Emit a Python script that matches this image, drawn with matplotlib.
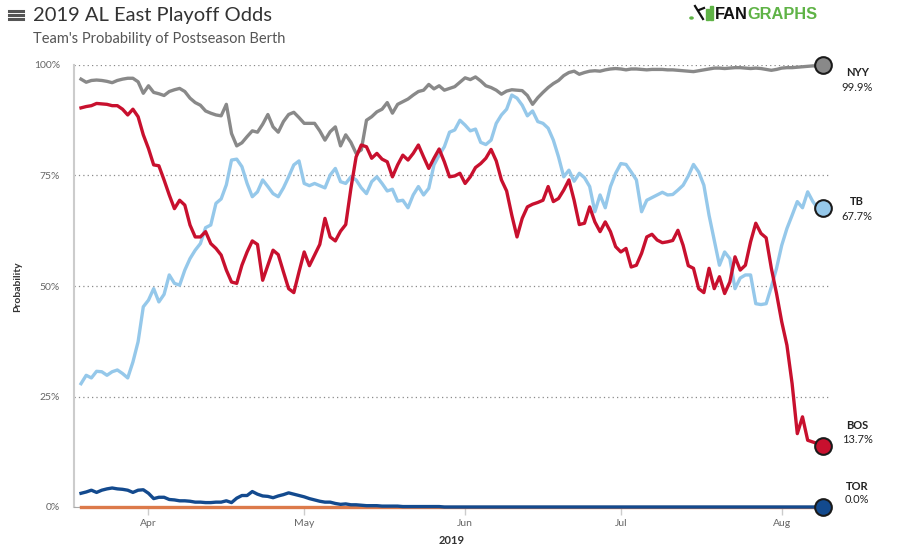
import pandas as pd
import matplotlib
matplotlib.use('Agg')
import matplotlib.pyplot as plt
import matplotlib.dates as mdates
from matplotlib.lines import Line2D
from matplotlib.patches import Rectangle, Circle

plt.rcParams['font.family'] = ['Lato', 'DejaVu Sans']

# daily playoff odds (%), 2019-03-19 .. 2019-08-09
start_date = '2019-03-19'

nyy = [96.8, 96.1, 96.5, 96.6, 96.5, 96.3, 96.0, 96.5, 96.8, 97.0,
       97.0, 96.2, 93.6, 95.3, 93.8, 93.5, 93.1, 94.0, 94.4, 94.7,
       94.0, 92.5, 91.5, 90.9, 89.6, 89.1, 88.7, 88.5, 91.1, 84.5,
       81.7, 82.4, 83.8, 85.1, 84.8,
       86.6, 88.8, 86.0, 84.8, 87.2, 88.8, 89.3, 88.1, 86.8, 86.8,
       86.8, 85.1, 83.0, 84.9, 86.0, 81.7, 84.2, 82.5, 80.0, 80.8,
       87.5, 88.3, 89.4, 90.0, 91.5, 89.1, 91.1, 91.7, 92.3, 93.2,
       94.0, 94.3, 95.6, 94.6, 95.3, 94.3, 94.7,
       95.1, 96.1, 97.1, 96.7, 97.3, 96.4, 95.3, 94.9, 94.3, 93.4,
       94.1, 94.4, 94.3, 94.2, 93.1, 91.1, 92.6, 93.8, 94.9, 95.8,
       96.5, 97.6, 98.3, 98.6, 97.9, 98.3, 98.6, 98.7, 98.6, 98.9,
       99.1, 99.2, 99.1, 98.9, 99.1,
       99.1, 99.0, 98.9, 99.0, 99.0, 99.0, 98.9, 98.9, 98.8, 98.7,
       98.6, 98.5, 98.7, 98.9, 99.1, 99.3, 99.3, 99.2, 99.3, 99.4,
       99.4, 99.3, 99.2, 99.3, 99.2, 99.0, 98.8, 99.0, 99.3, 99.4,
       99.4, 99.5, 99.6, 99.7, 99.8, 99.8, 99.9]

bos = [90.3, 90.6, 90.8, 91.3, 91.2, 91.1, 90.8, 90.8, 90.0, 88.7,
       90.0, 88.3, 84.2, 81.1, 77.4, 77.2, 74.0, 70.6, 67.5, 69.4,
       68.3, 63.8, 61.1, 61.1, 62.3, 59.6, 58.5, 57.0, 53.6, 50.9,
       50.6, 54.7, 57.7, 60.2, 59.4,
       51.3, 54.7, 58.1, 57.1, 53.2, 49.4, 48.5, 53.2, 57.7, 54.6,
       57.0, 59.4, 65.3, 61.1, 60.2, 62.4, 63.9, 72.1, 79.2, 81.9,
       81.5, 78.9, 80.0, 78.7, 78.1, 74.7, 77.4, 79.6, 78.5, 80.0,
       81.9, 79.2, 76.6, 78.9, 81.0, 78.1, 74.7,
       74.9, 75.5, 73.2, 74.7, 76.8, 77.7, 78.9, 80.9, 78.3, 74.0,
       71.5, 66.0, 61.1, 65.3, 67.9, 68.5, 68.9, 69.4, 72.5, 69.1,
       69.8, 71.7, 74.0, 69.4, 63.9, 64.2, 67.9, 64.5, 62.3, 64.5,
       62.3, 58.9, 57.7, 58.5, 54.3,
       54.7, 57.4, 61.1, 61.7, 60.4, 59.8, 60.0, 60.3, 62.6, 59.2,
       54.6, 54.0, 49.4, 48.5, 54.0, 49.4, 52.1, 48.3, 50.9, 56.6,
       53.6, 54.7, 60.0, 64.2, 61.9, 60.9, 54.0, 48.3, 41.9, 36.6,
       27.9, 16.6, 20.4, 15.1, 14.7, 14.3, 13.7]

tb = [27.9, 29.8, 29.2, 30.7, 30.6, 29.8, 30.6, 31.0, 30.2, 29.2,
      32.8, 37.4, 45.3, 46.8, 49.4, 46.4, 48.1, 52.5, 50.6, 50.2,
      53.6, 56.2, 58.1, 59.6, 63.2, 63.8, 68.7, 69.7, 72.9, 78.5,
      78.7, 77.0, 73.2, 70.2, 71.3,
      74.0, 72.5, 70.9, 70.2, 72.2, 74.7, 77.4, 78.3, 73.2, 72.7,
      73.2, 72.7, 72.2, 75.1, 76.6, 73.6, 73.2, 74.7, 74.0, 72.2,
      70.9, 73.6, 74.7, 73.2, 71.5, 71.9, 69.2, 69.4, 67.7, 70.6,
      72.5, 70.6, 72.1, 77.4, 79.6, 81.5, 84.8,
      85.3, 87.5, 86.4, 85.1, 85.5, 82.5, 82.0, 83.0, 86.8, 88.7,
      90.0, 93.2, 92.5, 90.9, 88.5, 89.6, 87.2, 86.8, 85.7, 83.0,
      79.2, 74.7, 76.2, 73.7, 75.5, 74.5, 72.5, 66.8, 70.6, 67.7,
      72.5, 75.5, 77.7, 77.5, 75.8,
      74.0, 66.8, 69.4, 70.0, 70.6, 71.2, 70.6, 70.7, 71.7, 72.8,
      74.9, 77.5, 75.8, 72.8, 66.0, 60.4, 54.7, 57.7, 56.2, 49.4,
      51.8, 52.5, 52.5, 46.0, 45.8, 46.0, 49.8, 54.0, 59.2, 63.0,
      66.0, 69.1, 67.7, 71.3, 69.1, 67.5, 67.7]

tor = ([3.1, 3.4, 3.8, 3.3, 3.8, 4.1, 4.3, 4.1, 4.0, 3.8,
        3.3, 3.8, 3.9, 3.1, 1.9, 2.2, 2.2, 1.7, 1.6, 1.4,
        1.4, 1.3, 1.1, 1.1, 1.0, 1.0, 1.1, 1.1, 1.4, 1.0,
        2.0, 2.6, 2.6, 3.5, 2.9, 2.5, 2.4, 2.1, 2.5, 2.8,
        3.2, 2.9, 2.6, 2.3, 1.9, 1.6, 1.3, 1.1, 1.1, 0.8,
        0.6, 0.7, 0.5, 0.5, 0.4, 0.3, 0.3, 0.3, 0.2, 0.2,
        0.2, 0.2, 0.1, 0.1, 0.1, 0.1, 0.1, 0.1, 0.1, 0.1]
       + [0.0] * 74)

bal = [0.0] * 144

ytick_vals = [0, 25, 50, 75, 100]
ytick_labels = ['0%', '25%', '50%', '75%', '100%']

colors = {'NYY': '#898989', 'TB': '#95c8ea', 'BOS': '#c8102e',
          'BAL': '#dc7a4a', 'TOR': '#134a8e'}
series = {'NYY': nyy, 'TB': tb, 'BOS': bos, 'BAL': bal, 'TOR': tor}
# label offsets (points) for team name / value next to the end marker
label_dy = {'NYY': (-5, -16), 'TB': (4.5, -6.5), 'BOS': (15, 5), 'TOR': (15, 5.5)}

dates = pd.date_range(start_date, periods=len(nyy), freq='D')

fig = plt.figure(figsize=(9, 5.56), dpi=100)
ax = fig.add_axes([74/900, 49/556, 756/900, 442/556])

for team in ['BAL', 'TOR', 'NYY', 'TB', 'BOS']:
    ax.plot(dates, series[team], color=colors[team], lw=2.4,
            solid_joinstyle='round', clip_on=False, zorder=3 if team != 'TOR' else 4)

for team in ['NYY', 'TB', 'BOS', 'TOR']:
    vals = series[team]
    ax.plot(dates[-1], vals[-1], 'o', ms=12, mfc=colors[team], mec='#1a1a1a',
            mew=1.5, clip_on=False, zorder=6)
    dn, dv = label_dy[team]
    ax.annotate(team, (dates[-1], vals[-1]), xytext=(24.5, dn), textcoords='offset points',
                ha='center', va='center', fontsize=8, fontweight='bold', color='#222')
    ax.annotate('%.1f%%' % vals[-1], (dates[-1], vals[-1]), xytext=(24.5, dv),
                textcoords='offset points', ha='center', va='center', fontsize=8,
                color='#222')

x0 = mdates.date2num(dates[0])
ax.set_xlim(x0 - 1.35, x0 + 144.3)
ax.set_ylim(0, 100)
ax.set_yticks(ytick_vals)
ax.set_yticklabels(ytick_labels)
ax.xaxis.set_major_locator(mdates.MonthLocator())
ax.xaxis.set_major_formatter(mdates.DateFormatter('%b'))

ax.grid(axis='y', color='#8a8a8a', linestyle=(0, (1, 2.5)), linewidth=0.9)
ax.set_axisbelow(True)
for s in ['top', 'right']:
    ax.spines[s].set_visible(False)
ax.spines['left'].set_color('#cccccc')
ax.spines['left'].set_linewidth(1.5)
ax.spines['bottom'].set_color('#aaaaaa')
ax.tick_params(axis='y', length=0, pad=10, labelsize=7.5, labelcolor='#666666')
ax.tick_params(axis='x', length=6, width=1, color='#cccccc', pad=3,
               labelsize=7.5, labelcolor='#666666')

fig.text(18/900, 1 - 287/556, 'Probability', rotation=90, ha='center', va='center',
         fontsize=7.5, fontweight='bold', color='#333333')
fig.text(452/900, 1 - 540/556, '2019', ha='center', va='center',
         fontsize=8, fontweight='bold', color='#333333')

# header
fig.text(33/900, 1 - 20.7/556, '2019 AL East Playoff Odds', fontsize=14.5,
         color='#333333', va='baseline')
fig.text(33/900, 1 - 43.3/556, "Team's Probability of Postseason Berth", fontsize=10.5,
         color='#555555', va='baseline')
for yy in [10.5, 14.7, 18.8]:
    fig.add_artist(Line2D([9/900, 23/900], [1 - yy/556] * 2, lw=2.2, color='#555555'))

# FanGraphs logo
fan = fig.text(715/900, 1 - 19/556, 'FAN', family='Liberation Sans', fontweight='bold',
               fontsize=11.8, color='#111111', va='baseline')
fig.canvas.draw()
bb = fan.get_window_extent()
fig.text(bb.x1 / 900, 1 - 19/556, 'GRAPHS', family='Liberation Sans', fontweight='bold',
         fontsize=11.8, color='#5fb346', va='baseline')
fig.add_artist(Circle((691.5/900, 1 - 18/556), 1.6/900, color='#5fb346',
                      transform=fig.transFigure))
fig.add_artist(Line2D([695/900, 703/900], [1 - 6/556, 1 - 19/556], lw=1.6, color='#111111'))
fig.add_artist(Line2D([699/900, 704/900], [1 - 10/556, 1 - 8/556], lw=1.6, color='#111111'))
fig.add_artist(Rectangle((706/900, 1 - 20/556), 2.5/900, 11/556, color='#5fb346',
                         transform=fig.transFigure))
fig.add_artist(Rectangle((710/900, 1 - 20/556), 2.5/900, 14/556, color='#5fb346',
                         transform=fig.transFigure))

fig.savefig('out.png', dpi=100)
